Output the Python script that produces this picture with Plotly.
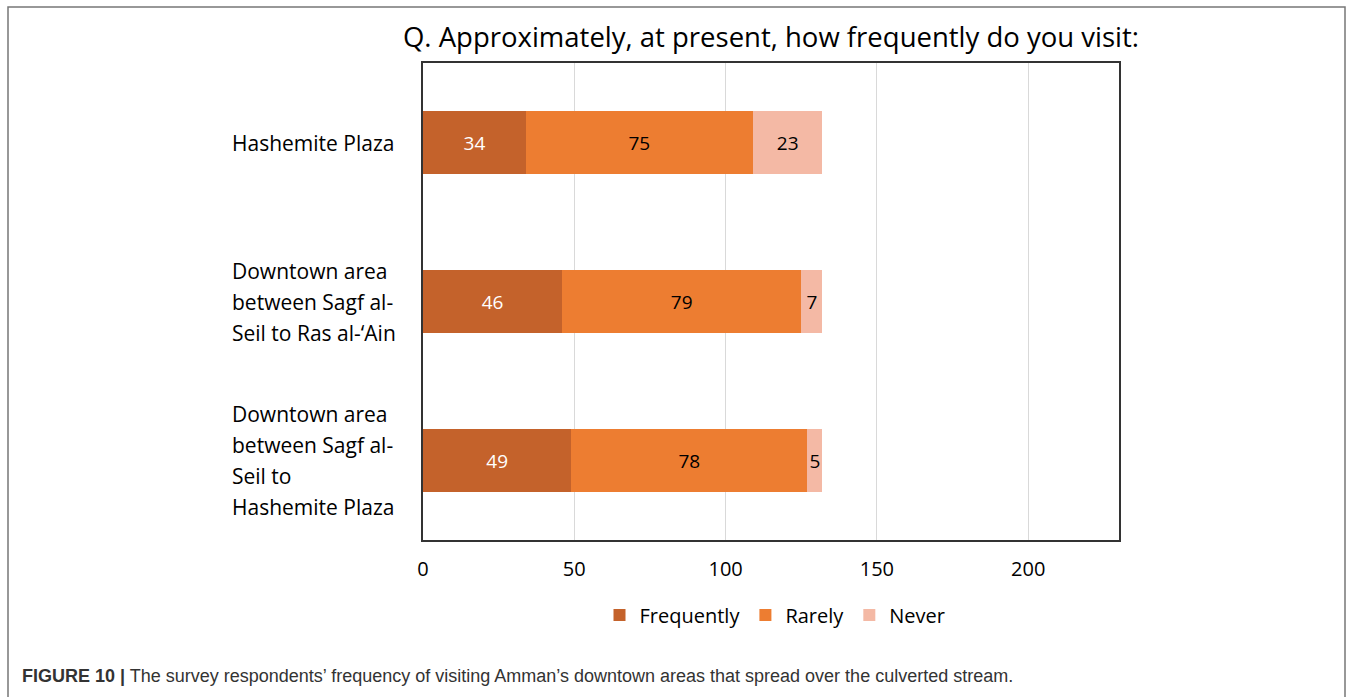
import plotly.graph_objects as go

categories = ["Hashemite Plaza",
              "Downtown area<br>between Sagf al-<br>Seil to Ras al-‘Ain",
              "Downtown area<br>between Sagf al-<br>Seil to<br>Hashemite Plaza"]
series_names = ["Frequently", "Rarely", "Never"]
frequently = [34, 46, 49]
rarely = [75, 79, 78]
never = [23, 7, 5]
x_ticks = [0, 50, 100, 150, 200]

colors = ["#C4622B", "#ED7D31", "#F4B9A5"]
label_colors = ["white", "black", "black"]

W, H = 1357, 697
L, R, T, B = 423, 1119, 63, 540


def px_x(p):
    return (p - L) / (R - L)


def px_y(p):
    return (B - p) / (B - T)


FONT = "Open Sans"

fig = go.Figure()
for name, vals, c, lc in zip(series_names, [frequently, rarely, never], colors, label_colors):
    fig.add_trace(go.Bar(
        y=categories, x=vals, name=name, orientation="h",
        marker=dict(color=c, line=dict(width=0)),
        text=[str(v) for v in vals], textposition="inside",
        insidetextanchor="middle", constraintext="none", textangle=0,
        insidetextfont=dict(family=FONT, size=19, color=lc),
    ))

# category labels (left aligned, multi-line)
for cat in categories:
    lines = cat.split("<br>")
    n = len(lines)
    sp = 31
    for i, ln in enumerate(lines):
        fig.add_annotation(
            x=px_x(230), xref="paper", y=cat, yref="y",
            text=ln, showarrow=False, xanchor="left", yanchor="middle",
            yshift=((n - 1) / 2 - i) * sp,
            font=dict(family=FONT, size=21, color="black"),
        )

# caption
fig.add_annotation(
    x=px_x(20), xref="paper", y=px_y(676), yref="paper",
    text="<b>FIGURE 10 |</b> The survey respondents’ frequency of visiting Amman’s downtown areas that spread over the culverted stream.",
    showarrow=False, xanchor="left", yanchor="middle",
    font=dict(family="Liberation Sans", size=18, color="#333333"),
)

# outer frame
fig.add_shape(type="rect", xref="paper", yref="paper",
              x0=px_x(8), x1=px_x(1345), y0=px_y(760), y1=px_y(7),
              line=dict(color="#777777", width=1.5), fillcolor="rgba(0,0,0,0)")

fig.update_layout(
    width=W, height=H,
    margin=dict(l=L, r=W - R, t=T, b=H - B),
    barmode="stack", bargap=0.6,
    paper_bgcolor="white", plot_bgcolor="white",
    title=dict(text="Q. Approximately, at present, how frequently do you visit:",
               x=px_x(771), xref="paper", xanchor="center",
               y=1 - 37 / H, yref="container", yanchor="middle",
               font=dict(family=FONT, size=27.5, color="black")),
    legend=dict(orientation="h", x=px_x(775), xanchor="center",
                y=px_y(615), yanchor="middle",
                font=dict(family=FONT, size=20, color="black"),
                traceorder="normal", itemwidth=30),
    showlegend=True,
)
fig.update_xaxes(range=[0, 230], tickvals=x_ticks, showgrid=True,
                 gridcolor="#D9D9D9", gridwidth=1,
                 showline=True, mirror=True, linecolor="#333333", linewidth=1.5,
                 zeroline=False, ticks="", ticklabelstandoff=10,
                 tickfont=dict(family=FONT, size=20, color="black"))
fig.update_yaxes(categoryorder="array", categoryarray=categories,
                 autorange="reversed", showticklabels=False,
                 showline=True, mirror=True, linecolor="#333333", linewidth=1.5,
                 showgrid=False, zeroline=False)

fig.write_html("out.html")
